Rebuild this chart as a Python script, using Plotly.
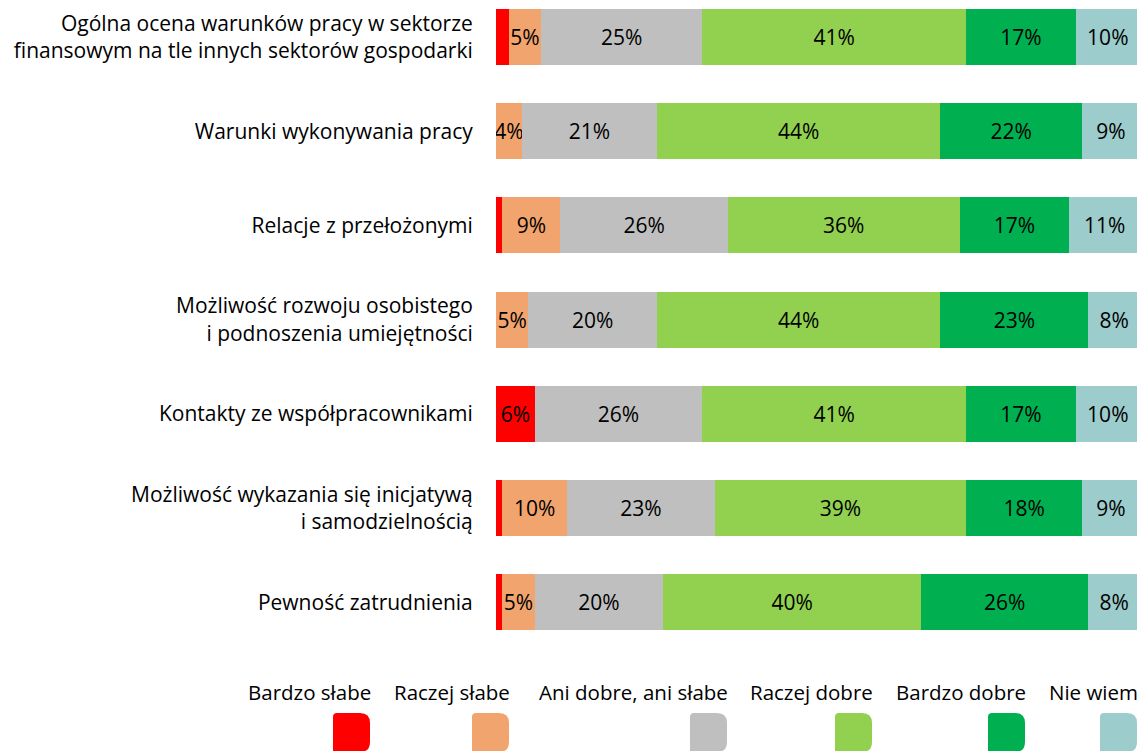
import plotly.graph_objects as go

categories = [
    "Ogólna ocena warunków pracy w sektorze<br>finansowym na tle innych sektorów gospodarki",
    "Warunki wykonywania pracy",
    "Relacje z przełożonymi",
    "Możliwość rozwoju osobistego<br>i podnoszenia umiejętności",
    "Kontakty ze współpracownikami",
    "Możliwość wykazania się inicjatywą<br>i samodzielnością",
    "Pewność zatrudnienia",
]

series_names = ["Bardzo słabe", "Raczej słabe", "Ani dobre, ani słabe",
                "Raczej dobre", "Bardzo dobre", "Nie wiem"]

bardzo_slabe = [2, 0, 1, 0, 6, 1, 1]
raczej_slabe = [5, 4, 9, 5, 0, 10, 5]
ani_dobre = [25, 21, 26, 20, 26, 23, 20]
raczej_dobre = [41, 44, 36, 44, 41, 39, 40]
bardzo_dobre = [17, 22, 17, 23, 17, 18, 26]
nie_wiem = [10, 9, 11, 8, 10, 9, 8]

series_values = [bardzo_slabe, raczej_slabe, ani_dobre, raczej_dobre, bardzo_dobre, nie_wiem]
colors = ["#FF0000", "#F2A46E", "#BFBFBF", "#92D050", "#00B050", "#9CCCCB"]

FONT = "Open Sans"
W, H = 1137, 751
ML, MB = 496, 91
PW, PH = W - ML, H - MB

fig = go.Figure()
for name, vals, col in zip(series_names, series_values, colors):
    fig.add_trace(go.Bar(
        y=categories, x=vals, name=name, orientation="h",
        marker=dict(color=col, line=dict(width=0)),
        text=[f"{v}%" if v >= 4 else "" for v in vals],
        textposition="inside", insidetextanchor="middle", textangle=0,
        textfont=dict(family=FONT, size=21, color="black"),
        width=0.595, showlegend=False, hoverinfo="skip",
    ))

def px_x(p):
    return (p - ML) / PW

def px_y(p):
    return (PH - p) / PH

# custom legend: text above rounded squares (right-aligned)
legend_right = [370, 509, 727, 872, 1025, 1137]
shapes = []
annotations = []
for name, col, r in zip(series_names, colors, legend_right):
    x1 = r
    x0 = r - 37
    y0, y1 = 713, 752
    rt, rb, rl = 10, 10, 4
    path = (f"M {px_x(x0)},{px_y(y1)} "
            f"L {px_x(x0)},{px_y(y0 + rl)} "
            f"Q {px_x(x0)},{px_y(y0)} {px_x(x0 + rl)},{px_y(y0)} "
            f"L {px_x(x1 - rt)},{px_y(y0)} "
            f"Q {px_x(x1)},{px_y(y0)} {px_x(x1)},{px_y(y0 + rt)} "
            f"L {px_x(x1)},{px_y(y1 - rb)} "
            f"Q {px_x(x1)},{px_y(y1)} {px_x(x1 - rb)},{px_y(y1)} Z")
    shapes.append(dict(type="path", xref="paper", yref="paper", path=path,
                       fillcolor=col, line=dict(width=0), layer="above"))
    annotations.append(dict(x=px_x(r + 3), y=px_y(692), xref="paper", yref="paper",
                            text=name, showarrow=False, xanchor="right", yanchor="middle",
                            font=dict(family=FONT, size=20.5, color="black")))

fig.update_layout(
    barmode="stack",
    width=W, height=H,
    margin=dict(l=ML, r=0, t=0, b=MB),
    paper_bgcolor="white", plot_bgcolor="white",
    uniformtext=dict(minsize=21, mode="show"),
    xaxis=dict(range=[0, PW / 6.44], visible=False, showgrid=False, zeroline=False),
    yaxis=dict(range=[(PH - 37) / 94.2, -37 / 94.2], showgrid=False, zeroline=False,
               showline=False, ticks="outside", ticklen=18, tickcolor="rgba(0,0,0,0)",
               tickfont=dict(family=FONT, size=21, color="black")),
    shapes=shapes, annotations=annotations,
    font=dict(family=FONT),
)

fig.write_html("out.html")
